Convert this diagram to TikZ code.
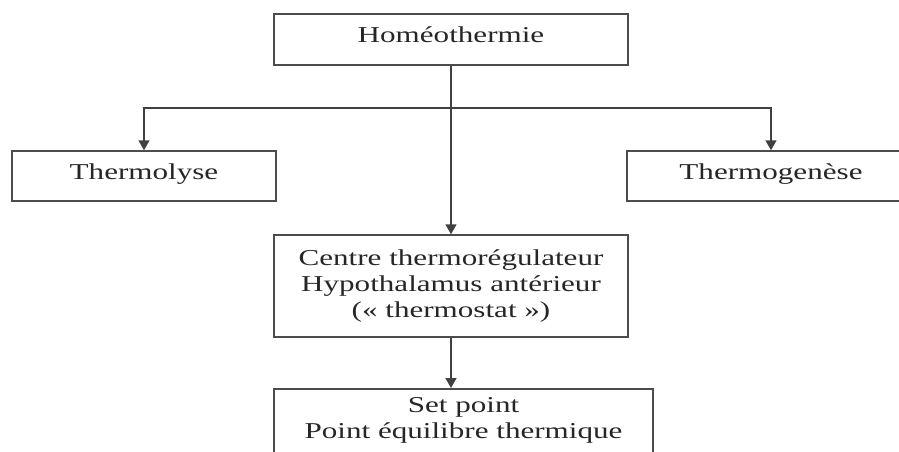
\documentclass[tikz,border=0pt]{standalone}
\usepackage{fontspec}
\setmainfont{Liberation Serif}[FakeStretch=1.37]
\usetikzlibrary{arrows.meta}
\begin{document}
\begin{tikzpicture}[x=1pt, y=-1pt,
  box/.style={draw=black!70, line width=1.5pt, align=center,
    font=\fontsize{22.7}{26}\selectfont, text=black!85},
  single/.style={box, text height=15.5pt, text depth=9pt},
  link/.style={draw=black!75, line width=1.6pt, -{Triangle[width=11pt,length=10pt]}}]
  % Homeothermy: scheme of the thermoregulation
  \clip (0,0) rectangle (899,451);
  \node[single, minimum width=354pt, minimum height=51pt] (homeo) at (451,39.5) {Homéothermie};
  \node[single, minimum width=264pt, minimum height=50pt] (lyse) at (144,176) {Thermolyse};
  \node[single, minimum width=288pt, minimum height=50pt] (genese) at (771,176) {Thermogenèse};
  \node[box, minimum width=354pt, minimum height=102pt] (centre) at (451,286)
    {Centre thermorégulateur\\Hypothalamus antérieur\\(« thermostat »)};
  \node[box, minimum width=379pt, inner ysep=9pt, anchor=north] (setp) at (463.5,388)
    {Set point\\Point équilibre thermique};
  \coordinate (split) at (451,108);
  \draw[link] (homeo.south) -- (centre.north);
  \draw[link] (split) -| (lyse.north);
  \draw[link] (split) -| (genese.north);
  \draw[link] (centre.south) -- (centre.south |- setp.north);
\end{tikzpicture}
\end{document}
